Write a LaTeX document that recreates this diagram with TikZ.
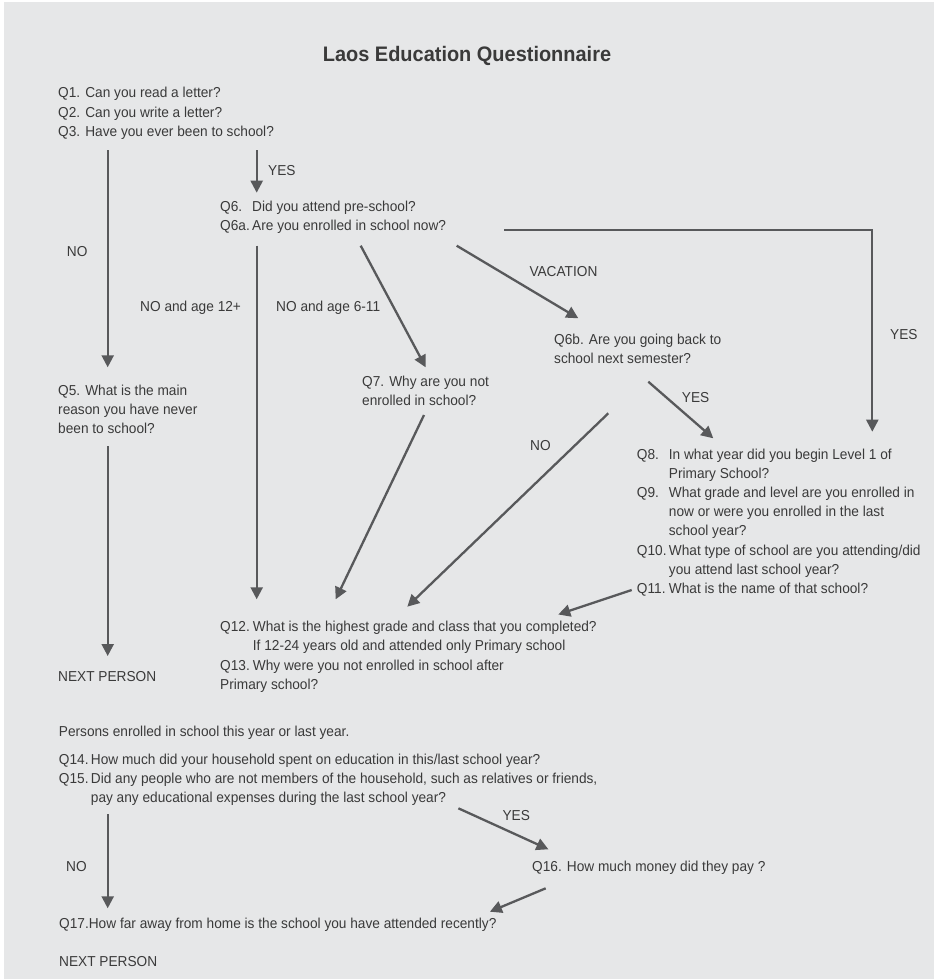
\documentclass[tikz,border=0pt]{standalone}
\usepackage{fontspec}
\setmainfont{Liberation Sans}[FakeStretch=0.95]
\usetikzlibrary{arrows.meta}
\definecolor{panel}{HTML}{E6E7E8}
\definecolor{ink}{HTML}{3A3A3A}
\definecolor{wire}{HTML}{58595B}
\newcommand\qfont{\fontsize{14.4}{19.2}\selectfont}
\newcommand\headfont{\fontsize{21}{25}\selectfont\bfseries}
\begin{document}
\begin{tikzpicture}[x=1pt,y=-1pt,
  txt/.style={anchor=base west, font=\qfont, inner sep=0pt, text=ink},
  flow/.style={draw=wire, line width=2.3pt, -{Triangle[length=12pt,width=12pt]}}]
\useasboundingbox (0,0) rectangle (934,979);
\fill[panel] (4,2) rectangle (934,979);

% heading
\node[anchor=base, font=\headfont, text=ink, inner sep=0pt] (title) at (467,62) {Laos Education Questionnaire};

% question blocks
\node[txt] (q1) at (58,98) {\begin{tabular}[t]{@{}l@{}}Q1. Can you read a letter?\\ Q2. Can you write a letter?\\ Q3. Have you ever been to school?\end{tabular}};
\node[txt] (q6) at (220,211) {\begin{tabular}[t]{@{}p{32pt}@{}l@{}}Q6. & Did you attend pre-school?\\ Q6a. & Are you enrolled in school now?\end{tabular}};
\node[txt] (q5) at (58,395) {\begin{tabular}[t]{@{}l@{}}Q5. What is the main\\ reason you have never\\ been to school?\end{tabular}};
\node[txt] (q7) at (362,386.7) {\begin{tabular}[t]{@{}l@{}}Q7. Why are you not\\ enrolled in school?\end{tabular}};
\node[txt] (q6b) at (554,344.3) {\begin{tabular}[t]{@{}l@{}}Q6b. Are you going back to\\ school next semester?\end{tabular}};
\node[txt] (q8) at (636.7,459) {\begin{tabular}[t]{@{}p{32pt}@{}l@{}}Q8. & In what year did you begin Level 1 of\\ & Primary School?\\ Q9. & What grade and level are you enrolled in\\ & now or were you enrolled in the last\\ & school year?\\ Q10. & What type of school are you attending/did\\ & you attend last school year?\\ Q11. & What is the name of that school?\end{tabular}};
\node[txt] (q12) at (220,631.7) {\begin{tabular}[t]{@{}p{32.7pt}@{}l@{}}Q12. & What is the highest grade and class that you completed?\\ & If 12-24 years old and attended only Primary school\\ Q13. & Why were you not enrolled in school after\\ \multicolumn{2}{@{}l@{}}{Primary school?}\end{tabular}};
\node[txt] (next1) at (58,681) {NEXT PERSON};

\node[txt] (persons) at (58.7,736.7) {Persons enrolled in school this year or last year.};
\node[txt] (q14) at (58.7,764.3) {\begin{tabular}[t]{@{}p{32pt}@{}l@{}}Q14. & How much did your household spent on education in this/last school year?\\ Q15. & Did any people who are not members of the household, such as relatives or friends,\\ & pay any educational expenses during the last school year?\end{tabular}};
\node[txt] (q16) at (532,871.7) {Q16. How much money did they pay ?};
\node[txt] (q17) at (59,928.3) {Q17.How far away from home is the school you have attended recently?};
\node[txt] (next2) at (59,966) {NEXT PERSON};

% branch labels
\node[txt] (lyes1) at (268,175.7) {YES};
\node[txt] (lno1) at (66.7,256) {NO};
\node[txt] (lno12) at (140,311) {NO and age 12+};
\node[txt] (lno611) at (276,311) {NO and age 6-11};
\node[txt] (lvac) at (529.3,276.7) {VACATION};
\node[txt] (lyes2) at (890,339) {YES};
\node[txt] (lyes3) at (681.7,402.3) {YES};
\node[txt] (lno2) at (530,450.7) {NO};
\node[txt] (lno3) at (66,871.7) {NO};
\node[txt] (lyes4) at (502.3,820.7) {YES};

% connector ends
\coordinate (q3no) at (107.7,150);
\coordinate (q5in) at (107.7,367.3);
\coordinate (q3yes) at (256.7,150);
\coordinate (q6in) at (256.7,192.7);
\coordinate (q6no12) at (256.7,245.7);
\coordinate (q12inA) at (256.7,599.3);
\coordinate (q6no611) at (360.7,245.7);
\coordinate (q7in) at (425.7,367.3);
\coordinate (q6vac) at (456.7,245.7);
\coordinate (q6bin) at (578.3,318.3);
\coordinate (q6yes) at (504,230);
\coordinate (corner) at (872.3,230);
\coordinate (q8inA) at (872.3,431.7);
\coordinate (q6byes) at (648.3,381.7);
\coordinate (q8inB) at (713.3,438.3);
\coordinate (q6bno) at (608.3,413.3);
\coordinate (q12inC) at (407.3,606.7);
\coordinate (q7out) at (424,415);
\coordinate (q12inB) at (335.7,599.3);
\coordinate (q11out) at (631.7,590);
\coordinate (q12inD) at (558.3,614.5);
\coordinate (q5out) at (107.7,446);
\coordinate (next1in) at (107.7,656);
\coordinate (q15no) at (107.7,814);
\coordinate (q17inA) at (107.7,908.3);
\coordinate (q15yes) at (458.4,808.3);
\coordinate (q16in) at (548.4,849.3);
\coordinate (q16out) at (545.7,888.3);
\coordinate (q17inB) at (489.9,911.7);

% connectors
\draw[flow] (q3no) -- (q5in);
\draw[flow] (q3yes) -- (q6in);
\draw[flow] (q6no12) -- (q12inA);
\draw[flow] (q6no611) -- (q7in);
\draw[flow] (q6vac) -- (q6bin);
\draw[flow] (q6yes) -- (corner) -- (q8inA);
\draw[flow] (q6byes) -- (q8inB);
\draw[flow] (q6bno) -- (q12inC);
\draw[flow] (q7out) -- (q12inB);
\draw[flow] (q11out) -- (q12inD);
\draw[flow] (q5out) -- (next1in);
\draw[flow] (q15no) -- (q17inA);
\draw[flow] (q15yes) -- (q16in);
\draw[flow] (q16out) -- (q17inB);
\end{tikzpicture}
\end{document}
